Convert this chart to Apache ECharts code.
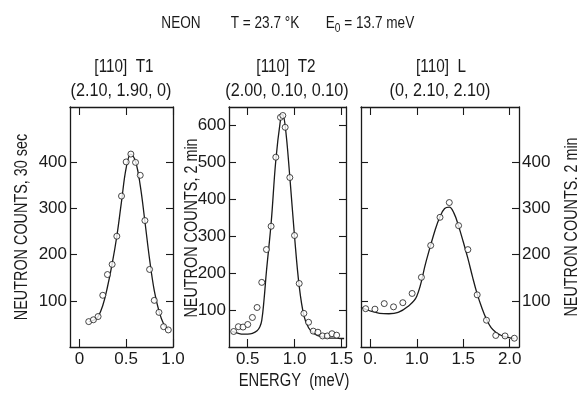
<!DOCTYPE html>
<html>
<head>
<meta charset="utf-8">
<script src="https://cdn.jsdelivr.net/npm/echarts@6/dist/echarts.min.js"></script>
<style>
  html, body { margin: 0; padding: 0; background: #fff; }
  #chart { width: 577px; height: 394px; }
</style>
</head>
<body>
<div id="chart"></div>
<script>
// [110] T1 panel
const t1PointX = [0.10, 0.15, 0.20, 0.25, 0.30, 0.35, 0.40, 0.45, 0.50, 0.55, 0.60, 0.65, 0.70, 0.75, 0.80, 0.85, 0.90, 0.95];
const t1PointY = [55, 59, 66, 112, 157, 179, 240, 327, 401, 418, 400, 372, 274, 168, 101, 75, 44, 37];
const t1CurveX = [0.10, 0.15, 0.20, 0.25, 0.30, 0.35, 0.40, 0.45, 0.50, 0.55, 0.60, 0.65, 0.70, 0.75, 0.80, 0.85, 0.90, 0.95];
const t1CurveY = [55, 58, 66, 90, 130, 180, 240, 315, 388, 418, 402, 350, 272, 190, 122, 78, 50, 38];

// [110] T2 panel
const t2PointX = [0.35, 0.40, 0.45, 0.50, 0.55, 0.60, 0.65, 0.70, 0.75, 0.80, 0.85, 0.875, 0.90, 0.95, 1.00, 1.05, 1.10, 1.15, 1.20, 1.25, 1.30, 1.35, 1.40, 1.45];
const t2PointY = [42, 55, 54, 61, 80, 107, 175, 264, 327, 514, 622, 627, 595, 459, 302, 172, 91, 67, 43, 40, 30, 30, 36, 32];
const t2CurveX = [0.33, 0.40, 0.45, 0.50, 0.55, 0.60, 0.63, 0.65, 0.675, 0.70, 0.75, 0.80, 0.85, 0.87, 0.90, 0.95, 1.00, 1.05, 1.10, 1.15, 1.20, 1.25, 1.30, 1.35, 1.40, 1.45, 1.50, 1.53];
const t2CurveY = [42, 37, 35, 35, 37, 44, 55, 72, 130, 205, 335, 505, 615, 630, 600, 460, 300, 165, 85, 52, 38, 31, 27, 25, 24, 24, 23, 23];

// [110] L panel
const lPointX = [0.45, 0.55, 0.65, 0.75, 0.85, 0.95, 1.05, 1.15, 1.25, 1.35, 1.45, 1.55, 1.65, 1.75, 1.85, 1.95, 2.05];
const lPointY = [83, 82, 94, 87, 96, 116, 151, 220, 281, 313, 263, 211, 113, 58, 25, 24, 19];
const lCurveX = [0.40, 0.50, 0.60, 0.70, 0.80, 0.90, 1.00, 1.10, 1.20, 1.25, 1.30, 1.35, 1.40, 1.45, 1.50, 1.55, 1.60, 1.65, 1.70, 1.75, 1.80, 1.85, 1.90, 1.95, 2.00, 2.05];
const lCurveY = [86, 78, 73, 72, 75, 87, 110, 185, 255, 282, 300, 303, 290, 262, 228, 192, 152, 115, 85, 60, 42, 32, 26, 22, 20, 18];

// tick values
const t1XTicks = [0, 0.5, 1.0];
const t2XTicks = [0.5, 1.0, 1.5];
const lXTicks = [0.5, 1.0, 1.5, 2.0];
const t1YTicks = [100, 200, 300, 400];
const t2YTicks = [100, 200, 300, 400, 500, 600];
const lYTicks = [100, 200, 300, 400];

const FONT = "'Liberation Sans', Arial, sans-serif";
const INK = '#1a1a1a';

const pairs = (xs, ys) => xs.map((x, i) => [x, ys[i]]);

const chart = echarts.init(document.getElementById('chart'), null, { renderer: 'canvas' });

const grids = [
    { left: 70, top: 107, width: 103, height: 240 },
    { left: 229, top: 107, width: 117, height: 240 },
    { left: 361, top: 107, width: 158, height: 240 },
];

const axisLine = { show: true, onZero: false, lineStyle: { color: INK, width: 1.3 } };
const tickStyle = { color: INK, width: 1.1 };
const labelStyle = { color: INK, fontFamily: FONT, fontSize: 17 };

function xAxes(gi, min, max, ticks, fmt) {
    return [
        {
            type: 'value', gridIndex: gi, position: 'bottom', min, max,
            axisLine, splitLine: { show: false },
            axisTick: { inside: true, length: 8, lineStyle: tickStyle, customValues: ticks },
            axisLabel: { ...labelStyle, margin: 4, customValues: ticks, formatter: fmt },
        },
        {
            type: 'value', gridIndex: gi, position: 'top', min, max,
            axisLine, splitLine: { show: false },
            axisTick: { inside: true, length: 8, lineStyle: tickStyle, customValues: ticks },
            axisLabel: { show: false },
        },
    ];
}

function yAxes(gi, max, ticks, labelSide) {
    const side = (pos) => ({
        type: 'value', gridIndex: gi, position: pos, min: 0, max,
        axisLine, splitLine: { show: false },
        axisTick: { inside: true, length: 7, lineStyle: tickStyle, customValues: ticks },
        axisLabel: pos === labelSide
            ? { ...labelStyle, margin: 3, customValues: ticks }
            : { show: false },
    });
    return [side('left'), side('right')];
}

const fmtT1 = (v) => (v === 0 ? '0' : v.toFixed(1));
const fmtT2 = (v) => v.toFixed(1);
const fmtL = (v) => (v === 0.5 ? '0.' : v.toFixed(1));

const xAxis = [
    ...xAxes(0, -0.1, 1.0, t1XTicks, fmtT1),
    ...xAxes(1, 0.3, 1.55, t2XTicks, fmtT2),
    ...xAxes(2, 0.4, 2.1, lXTicks, fmtL),
];
const yAxis = [
    ...yAxes(0, 520, t1YTicks, 'left'),
    ...yAxes(1, 650, t2YTicks, 'left'),
    ...yAxes(2, 520, lYTicks, 'right'),
];

function panelSeries(i, px, py, cx, cy) {
    return [
        {
            type: 'line', xAxisIndex: 2 * i, yAxisIndex: 2 * i,
            data: pairs(cx, cy), smooth: 0.4, showSymbol: false, silent: true,
            lineStyle: { color: INK, width: 1.3 },
        },
        {
            type: 'scatter', xAxisIndex: 2 * i, yAxisIndex: 2 * i,
            data: pairs(px, py), symbol: 'circle', symbolSize: 6, silent: true,
            itemStyle: { color: '#fff', borderColor: INK, borderWidth: 1 },
            z: 3,
        },
    ];
}

// narrow lettering: real text, squeezed horizontally
const textEl = (text, x, y, size, opts = {}) => ({
    type: 'text', x, y,
    rotation: opts.rotation || 0,
    scaleX: opts.scaleX || 0.85,
    style: {
        text, fill: INK, font: `${size}px ${FONT}`,
        textAlign: 'center', textVerticalAlign: 'middle', rich: opts.rich,
    },
});

const subRich = { s: { fontSize: 12, fontFamily: FONT, fill: INK, padding: [10, 0, 0, 0] } };
const UP = Math.PI / 2;

const options = {
    animation: false,
    backgroundColor: '#fff',
    grid: grids,
    xAxis,
    yAxis,
    series: [
        ...panelSeries(0, t1PointX, t1PointY, t1CurveX, t1CurveY),
        ...panelSeries(1, t2PointX, t2PointY, t2CurveX, t2CurveY),
        ...panelSeries(2, lPointX, lPointY, lCurveX, lCurveY),
    ],
    graphic: [
        textEl('NEON', 181, 24, 16),
        textEl('T = 23.7 °K', 265, 24, 16),
        textEl('E{s|0} = 13.7 meV', 370, 24, 16, { rich: subRich }),
        textEl('[110]  T1', 124, 67, 18),
        textEl('(2.10, 1.90, 0)', 121, 91, 18, { scaleX: 0.9 }),
        textEl('[110]  T2', 286, 67, 18),
        textEl('(2.00, 0.10, 0.10)', 287, 91, 18, { scaleX: 0.9 }),
        textEl('[110]  L', 441, 67, 18),
        textEl('(0, 2.10, 2.10)', 440, 91, 18, { scaleX: 0.9 }),
        textEl('NEUTRON COUNTS, 30 sec', 22, 227, 18, { rotation: UP, scaleX: 0.8 }),
        textEl('NEUTRON COUNTS, 2 min', 192, 228, 18, { rotation: UP, scaleX: 0.8 }),
        textEl('NEUTRON COUNTS. 2 min', 572, 227, 18, { rotation: UP, scaleX: 0.8 }),
        textEl('ENERGY  (meV)', 294, 381, 18, { scaleX: 0.82 }),
    ],
};

chart.setOption(options);
</script>
</body>
</html>
